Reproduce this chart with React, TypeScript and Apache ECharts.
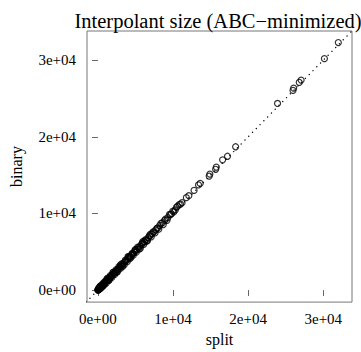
import React, { useEffect, useRef } from "react";
import * as echarts from "echarts";

const titleText = "Interpolant size (ABC−minimized)";
const xName = "split";
const yName = "binary";
const tickValues = [0, 10000, 20000, 30000];

const splitVals = [
  20, 50, 80, 100, 120, 150, 180, 200, 240, 260, 300, 330, 360, 400, 430, 470, 500, 540, 580, 620,
  660, 700, 750, 800, 850, 900, 950, 1000, 1060, 1120, 1180, 1250, 1320, 1400, 1480, 1550, 1630, 1720,
  1800, 1900, 2000, 2100, 2200, 2320, 2450, 2570, 2700, 2830, 2960, 3100, 3250, 3400, 3550, 3700, 3860,
  4000, 4150, 4300, 4480, 4650, 4820, 5000, 5200, 5400, 5600, 5800, 6000, 6200, 6450, 6700, 6950, 7200,
  7450, 7700, 7950, 8240, 8600, 8880, 9300, 9530, 9800, 9970, 10300, 10610, 10820, 11200, 11770, 12100,
  12800, 13390, 13610, 14810, 14900, 15670, 15760, 16600, 17250, 18330, 23910, 25970, 26060, 26800,
  27050, 30150, 32000,
  300, 700, 1200, 1500, 2000, 2500, 3000, 3300, 4000, 4400, 5000, 5500, 6000, 6500, 7000,
  150, 250, 350, 450, 550, 650, 750, 850, 950, 1100, 1300, 1450, 1650, 1850, 2050, 2250, 2400, 2650,
  2800, 3050, 3200, 3500, 3650, 3900, 4100, 4250, 4550, 4700, 4900, 5100, 5300, 5650, 5900, 6100, 6300,
  6600, 6850, 7100, 7350, 7600, 7850, 8100, 8400, 8700, 9000, 9200, 9650, 10100, 10450, 11000,
  0, 10, 30, 60, 90, 110, 140, 170, 210, 280,
];
const binaryVals = [
  40, 60, 110, 90, 150, 170, 200, 230, 260, 300, 320, 370, 390, 420, 470, 490, 540, 560, 610, 650,
  700, 720, 790, 830, 880, 950, 980, 1050, 1100, 1150, 1230, 1290, 1360, 1440, 1530, 1600, 1680, 1760,
  1860, 1950, 2060, 2150, 2270, 2380, 2500, 2640, 2760, 2900, 3040, 3170, 3320, 3480, 3640, 3780, 3950,
  4100, 4250, 4400, 4580, 4750, 4930, 5120, 5300, 5520, 5700, 5930, 6120, 6330, 6570, 6850, 7080, 7350,
  7600, 7850, 8100, 8450, 8800, 9100, 9450, 9890, 9950, 10310, 10450, 10950, 11160, 11400, 12060, 12310,
  13000, 13720, 13920, 14870, 15120, 15760, 16050, 16990, 17460, 18700, 24350, 26050, 26360, 27100,
  27400, 30200, 32300,
  500, 550, 1450, 1300, 2300, 2300, 3300, 3100, 4350, 4250, 5300, 5350, 6350, 6400, 7300,
  330, 150, 500, 300, 700, 500, 950, 700, 1150, 900, 1550, 1250, 1900, 1650, 2300, 2050, 2650, 2450,
  3050, 2850, 3450, 3300, 3900, 3700, 4350, 4100, 4800, 4550, 5150, 4950, 5600, 5450, 6150, 5950, 6550,
  6450, 7100, 6950, 7600, 7450, 8050, 7950, 8700, 8550, 9250, 9100, 9850, 10200, 10800, 11200,
  0, 20, 10, 90, 40, 180, 120, 250, 160, 380,
];

const xMin = -1455;
const xMax = 33823;
const yMin = -1571;
const yMax = 33806;

function sci(v: number): string {
  if (v === 0) return "0e+00";
  const e = Math.floor(Math.log10(Math.abs(v)));
  const m = v / Math.pow(10, e);
  return `${Math.round(m)}e+${String(e).padStart(2, "0")}`;
}

const FONT = "Liberation Serif";

export default function App() {
  const ref = useRef<HTMLDivElement>(null);
  useEffect(() => {
    document.body.style.margin = "0";
    const chart = echarts.init(ref.current!, null, { renderer: "svg" });
    const pts = splitVals.map((x, i) => [x, binaryVals[i]]);
    const lo = Math.min(xMin, yMin) - 1000;
    const hi = Math.max(xMax, yMax) + 1000;
    const axisCommon = {
      type: "value" as const,
      nameLocation: "middle" as const,
      nameTextStyle: { fontFamily: FONT, fontSize: 16, color: "#000" },
      axisLine: { show: false },
      splitLine: { show: false },
      axisTick: {
        show: true,
        inside: false,
        length: 6,
        customValues: tickValues,
        lineStyle: { color: "#666", width: 1 },
      },
    };
    chart.setOption({
      animation: false,
      title: {
        text: titleText,
        left: 213,
        textAlign: "center",
        top: 5,
        textStyle: { fontFamily: FONT, fontSize: 20.5, fontWeight: "normal", color: "#000" },
      },
      grid: {
        left: 78,
        right: 9,
        top: 31,
        bottom: 44,
        show: true,
        borderColor: "#777",
        borderWidth: 1,
        backgroundColor: "transparent",
      },
      xAxis: {
        ...axisCommon,
        name: xName,
        nameGap: 12,
        min: xMin,
        max: xMax,
        axisLabel: {
          customValues: tickValues,
          formatter: (v: number) => sci(v),
          fontFamily: FONT,
          fontSize: 15,
          color: "#000",
          margin: 9,
        },
      },
      yAxis: {
        ...axisCommon,
        name: yName,
        nameGap: 63,
        min: yMin,
        max: yMax,
        axisLabel: {
          customValues: tickValues,
          formatter: (v: number) => sci(v),
          fontFamily: FONT,
          fontSize: 15,
          color: "#000",
          margin: 11,
        },
      },
      series: [
        {
          type: "line",
          data: [
            [lo, lo],
            [hi, hi],
          ],
          clip: true,
          symbol: "none",
          silent: true,
          lineStyle: { color: "#000", width: 1.3, type: [0.1, 5.3], cap: "round" },
        },
        {
          type: "scatter",
          data: pts,
          symbol: "circle",
          symbolSize: 6,
          itemStyle: { color: "transparent", borderColor: "#000", borderWidth: 1.2 },
        },
      ],
    });
    return () => chart.dispose();
  }, []);
  return <div ref={ref} style={{ width: 361, height: 352, position: "absolute", left: 0, top: 0 }} />;
}
